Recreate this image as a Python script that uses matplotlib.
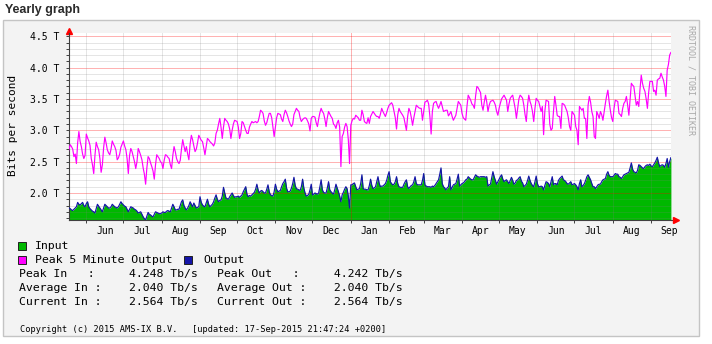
import numpy as np
import matplotlib
matplotlib.use("Agg")
import matplotlib.pyplot as plt
import matplotlib.dates as mdates
from matplotlib.patches import Rectangle
from matplotlib.ticker import FixedLocator, NullFormatter

plt.rcParams['font.family'] = ['DejaVu Sans Mono']

W, H = 712, 344

# daily values in Tb/s, one row per week, starting 2014-05-16
first_day = np.datetime64('2014-05-16')

peak_out_rows = [
    [2.66, 2.62, 2.70, 2.77, 2.74, 2.70, 2.58],
    [2.62, 2.47, 2.80, 2.98, 2.82, 2.74, 2.62],
    [2.55, 2.60, 2.94, 2.88, 2.83, 2.76, 2.55],
    [2.45, 2.31, 2.60, 2.81, 2.74, 2.69, 2.55],
    [2.33, 2.45, 2.72, 2.89, 2.80, 2.69, 2.64],
    [2.61, 2.70, 2.83, 2.78, 2.74, 2.68, 2.53],
    [2.56, 2.62, 2.73, 2.78, 2.83, 2.75, 2.69],
    [2.55, 2.31, 2.60, 2.71, 2.66, 2.58, 2.50],
    [2.39, 2.50, 2.71, 2.66, 2.60, 2.53, 2.40],
    [2.30, 2.14, 2.40, 2.58, 2.55, 2.48, 2.42],
    [2.35, 2.22, 2.45, 2.61, 2.58, 2.55, 2.50],
    [2.48, 2.39, 2.52, 2.61, 2.60, 2.57, 2.55],
    [2.45, 2.39, 2.60, 2.74, 2.66, 2.55, 2.50],
    [2.47, 2.52, 2.70, 2.85, 2.75, 2.66, 2.74],
    [2.62, 2.53, 2.78, 2.92, 2.85, 2.75, 2.66],
    [2.70, 2.80, 2.92, 2.88, 2.84, 2.82, 2.72],
    [2.61, 2.74, 2.87, 2.85, 2.82, 2.80, 2.78],
    [2.75, 2.80, 2.95, 3.00, 3.10, 3.19, 3.05],
    [2.87, 3.05, 3.19, 3.16, 3.14, 3.10, 3.02],
    [2.87, 3.00, 3.10, 3.16, 3.15, 3.14, 3.05],
    [2.87, 2.95, 3.14, 3.12, 3.06, 3.00, 2.95],
    [2.95, 3.05, 3.10, 3.14, 3.12, 3.13, 3.14],
    [3.12, 3.14, 3.22, 3.32, 3.30, 3.27, 3.15],
    [3.08, 3.12, 3.20, 3.27, 3.27, 3.20, 3.05],
    [2.90, 3.05, 3.20, 3.27, 3.26, 3.25, 3.18],
    [3.14, 3.25, 3.32, 3.28, 3.22, 3.15, 3.10],
    [3.06, 3.10, 3.25, 3.30, 3.35, 3.32, 3.30],
    [3.20, 3.14, 3.17, 3.19, 3.20, 3.19, 3.15],
    [3.10, 2.99, 3.19, 3.22, 3.22, 3.21, 3.12],
    [3.06, 3.18, 3.28, 3.35, 3.30, 3.27, 3.18],
    [3.06, 3.20, 3.30, 3.26, 3.22, 3.19, 3.10],
    [3.08, 3.03, 3.12, 3.16, 3.05, 2.42, 2.90],
    [2.95, 3.05, 3.11, 3.06, 2.85, 2.47, 3.08],
    [3.15, 3.19, 3.18, 3.24, 3.22, 3.20, 3.16],
    [3.16, 3.32, 3.25, 3.14, 3.12, 3.11, 3.20],
    [3.11, 3.22, 3.26, 3.30, 3.27, 3.24, 3.22],
    [3.22, 3.19, 3.26, 3.35, 3.30, 3.26, 3.22],
    [3.28, 3.35, 3.40, 3.42, 3.44, 3.40, 3.30],
    [3.20, 3.02, 3.25, 3.35, 3.30, 3.27, 3.24],
    [3.20, 3.10, 3.00, 3.22, 3.35, 3.30, 3.20],
    [3.08, 3.20, 3.30, 3.40, 3.38, 3.36, 3.35],
    [3.35, 3.16, 3.30, 3.45, 3.46, 3.48, 3.42],
    [3.22, 2.94, 3.30, 3.43, 3.45, 3.46, 3.40],
    [3.35, 3.40, 3.46, 3.38, 3.30, 3.31, 3.32],
    [3.32, 3.23, 3.26, 3.30, 3.22, 3.16, 3.20],
    [3.24, 3.35, 3.46, 3.43, 3.40, 3.27, 3.20],
    [3.18, 3.16, 3.38, 3.56, 3.52, 3.48, 3.42],
    [3.40, 3.35, 3.55, 3.70, 3.68, 3.64, 3.60],
    [3.40, 3.32, 3.45, 3.56, 3.45, 3.30, 3.40],
    [3.46, 3.47, 3.48, 3.45, 3.40, 3.30, 3.24],
    [3.35, 3.43, 3.50, 3.53, 3.56, 3.52, 3.48],
    [3.30, 3.42, 3.51, 3.54, 3.56, 3.45, 3.35],
    [3.19, 3.35, 3.50, 3.56, 3.54, 3.51, 3.40],
    [3.25, 3.14, 3.40, 3.56, 3.46, 3.40, 3.30],
    [3.14, 3.35, 3.51, 3.48, 3.46, 3.38, 3.30],
    [3.38, 2.93, 3.30, 3.48, 3.47, 3.46, 3.10],
    [3.00, 3.03, 3.30, 3.54, 3.40, 3.24, 3.22],
    [3.22, 3.03, 3.43, 3.42, 3.40, 3.35, 3.30],
    [3.20, 3.06, 3.00, 3.30, 3.27, 3.24, 3.06],
    [3.00, 2.77, 3.38, 3.35, 3.32, 3.35, 3.19],
    [3.19, 2.87, 3.40, 3.54, 3.45, 3.30, 3.22],
    [2.90, 2.87, 3.30, 3.25, 3.19, 3.30, 3.25],
    [3.16, 3.30, 3.43, 3.55, 3.64, 3.46, 3.32],
    [3.20, 3.14, 3.35, 3.48, 3.47, 3.46, 3.27],
    [3.25, 3.22, 3.35, 3.43, 3.46, 3.54, 3.40],
    [3.24, 3.50, 3.75, 3.72, 3.70, 3.55, 3.40],
    [3.46, 3.38, 3.65, 3.88, 3.75, 3.67, 3.62],
    [3.50, 3.35, 3.60, 3.78, 3.78, 3.78, 3.62],
    [3.64, 3.56, 3.80, 3.82, 3.83, 3.91, 3.85],
    [3.80, 3.70, 3.54, 3.96, 4.05, 4.20, 4.242],
]

input_rows = [
    [1.75, 1.74, 1.76, 1.75, 1.73, 1.72, 1.74],
    [1.76, 1.78, 1.85, 1.82, 1.81, 1.83, 1.85],
    [1.80, 1.78, 1.83, 1.86, 1.78, 1.75, 1.73],
    [1.71, 1.70, 1.68, 1.75, 1.82, 1.79, 1.76],
    [1.73, 1.70, 1.76, 1.82, 1.80, 1.78, 1.76],
    [1.76, 1.78, 1.82, 1.80, 1.78, 1.77, 1.76],
    [1.78, 1.82, 1.86, 1.83, 1.81, 1.79, 1.78],
    [1.74, 1.70, 1.74, 1.78, 1.77, 1.76, 1.74],
    [1.73, 1.71, 1.68, 1.69, 1.70, 1.66, 1.62],
    [1.59, 1.57, 1.63, 1.69, 1.66, 1.65, 1.63],
    [1.62, 1.66, 1.70, 1.69, 1.68, 1.67, 1.67],
    [1.68, 1.70, 1.69, 1.69, 1.71, 1.72, 1.71],
    [1.70, 1.76, 1.82, 1.78, 1.73, 1.73, 1.74],
    [1.74, 1.80, 1.86, 1.89, 1.80, 1.76, 1.73],
    [1.76, 1.80, 1.86, 1.82, 1.78, 1.84, 1.80],
    [1.76, 1.77, 1.78, 1.94, 1.85, 1.81, 1.79],
    [1.78, 1.84, 1.90, 1.82, 1.78, 1.80, 1.82],
    [1.86, 1.92, 1.97, 1.90, 1.86, 1.88, 1.89],
    [1.95, 2.09, 2.00, 1.92, 1.91, 1.90, 1.94],
    [1.97, 2.00, 1.96, 1.93, 1.94, 1.94, 1.95],
    [1.93, 1.95, 1.97, 2.02, 2.06, 2.10, 1.98],
    [1.94, 1.96, 1.95, 1.97, 1.99, 2.01, 2.06],
    [2.14, 2.05, 2.00, 2.03, 2.04, 2.02, 2.00],
    [2.00, 2.06, 2.13, 2.02, 1.97, 1.96, 1.95],
    [2.02, 2.14, 2.06, 2.02, 2.03, 2.04, 2.10],
    [2.15, 2.18, 2.22, 2.08, 2.02, 2.02, 2.03],
    [2.08, 2.15, 2.25, 2.12, 2.07, 2.06, 2.05],
    [2.04, 2.10, 2.22, 2.08, 2.00, 1.95, 1.96],
    [1.98, 2.05, 2.14, 1.97, 1.98, 2.00, 1.99],
    [1.98, 2.00, 2.10, 2.21, 2.05, 2.01, 2.00],
    [2.00, 2.08, 2.18, 2.05, 2.02, 2.00, 1.98],
    [2.05, 2.14, 2.08, 2.02, 1.95, 1.86, 1.97],
    [2.01, 2.06, 2.10, 2.07, 1.95, 1.76, 2.13],
    [2.13, 2.15, 2.16, 2.10, 2.05, 2.06, 2.07],
    [2.15, 2.29, 2.07, 2.06, 2.06, 2.05, 2.05],
    [2.12, 2.22, 2.12, 2.07, 2.08, 2.10, 2.18],
    [2.26, 2.15, 2.10, 2.11, 2.11, 2.13, 2.15],
    [2.20, 2.28, 2.34, 2.18, 2.15, 2.13, 2.14],
    [2.18, 2.26, 2.15, 2.10, 2.09, 2.09, 2.09],
    [2.14, 2.18, 2.21, 2.10, 2.07, 2.10, 2.12],
    [2.13, 2.18, 2.26, 2.15, 2.13, 2.13, 2.13],
    [2.13, 2.20, 2.31, 2.13, 2.11, 2.10, 2.10],
    [2.10, 2.09, 2.11, 2.10, 2.12, 2.15, 2.18],
    [2.21, 2.30, 2.40, 2.15, 2.10, 2.08, 2.05],
    [2.08, 2.10, 2.26, 2.05, 2.09, 2.13, 2.14],
    [2.15, 2.22, 2.30, 2.11, 2.13, 2.15, 2.16],
    [2.18, 2.21, 2.22, 2.26, 2.24, 2.22, 2.21],
    [2.21, 2.25, 2.29, 2.27, 2.26, 2.25, 2.26],
    [2.26, 2.26, 2.26, 2.25, 2.26, 2.11, 2.13],
    [2.14, 2.24, 2.34, 2.26, 2.20, 2.14, 2.18],
    [2.22, 2.26, 2.29, 2.22, 2.18, 2.20, 2.21],
    [2.18, 2.15, 2.20, 2.25, 2.20, 2.14, 2.16],
    [2.20, 2.21, 2.24, 2.26, 2.19, 2.16, 2.10],
    [2.12, 2.14, 2.20, 2.27, 2.20, 2.15, 2.12],
    [2.10, 2.18, 2.27, 2.15, 2.10, 2.10, 2.11],
    [2.10, 2.05, 2.12, 2.18, 2.17, 2.15, 2.10],
    [2.18, 2.26, 2.13, 2.15, 2.15, 2.13, 2.20],
    [2.23, 2.25, 2.27, 2.21, 2.20, 2.18, 2.15],
    [2.14, 2.16, 2.18, 2.13, 2.14, 2.15, 2.13],
    [2.10, 2.05, 2.15, 2.21, 2.10, 2.12, 2.15],
    [2.20, 2.26, 2.29, 2.25, 2.21, 2.15, 2.10],
    [2.10, 2.07, 2.10, 2.13, 2.14, 2.14, 2.18],
    [2.21, 2.22, 2.23, 2.30, 2.34, 2.28, 2.26],
    [2.26, 2.26, 2.28, 2.31, 2.30, 2.30, 2.26],
    [2.25, 2.23, 2.26, 2.29, 2.30, 2.31, 2.32],
    [2.33, 2.40, 2.48, 2.38, 2.34, 2.33, 2.32],
    [2.36, 2.45, 2.44, 2.42, 2.40, 2.39, 2.42],
    [2.44, 2.45, 2.44, 2.46, 2.43, 2.42, 2.45],
    [2.48, 2.52, 2.57, 2.48, 2.42, 2.44, 2.45],
    [2.44, 2.41, 2.47, 2.55, 2.41, 2.50, 2.564],
]

# output follows input exactly on this link
output_rows = input_rows

month_keys = ['2014-06', '2014-07', '2014-08', '2014-09', '2014-10', '2014-11',
              '2014-12', '2015-01', '2015-02', '2015-03', '2015-04', '2015-05',
              '2015-06', '2015-07', '2015-08', '2015-09']
month_labels = ['Jun', 'Jul', 'Aug', 'Sep', 'Oct', 'Nov', 'Dec', 'Jan',
                'Feb', 'Mar', 'Apr', 'May', 'Jun', 'Jul', 'Aug', 'Sep']

y_ticks = [2.0, 2.5, 3.0, 3.5, 4.0, 4.5]
y_tick_labels = ['2.0 T', '2.5 T', '3.0 T', '3.5 T', '4.0 T', '4.5 T']

peak_in, peak_out = 4.248, 4.242
avg_in, avg_out = 2.040, 2.040
cur_in, cur_out = 2.564, 2.564

peak_out_tb = np.ravel(peak_out_rows)
input_tb = np.ravel(input_rows)
output_tb = np.ravel(output_rows)
days = first_day + np.arange(len(input_tb))


def fx(x):
    return x / W


def fy(y):
    return 1 - y / H


fig = plt.figure(figsize=(W / 100, H / 100), dpi=100)
fig.patch.set_facecolor('white')

# grey canvas around graph and legend
fig.add_artist(Rectangle((fx(3), fy(336)), 696 / W, 316 / H, transform=fig.transFigure,
                         facecolor='#f3f3f3', edgecolor='#c4c4c4', lw=1, zorder=0))
fig.text(fx(5), fy(10), 'Yearly graph', family='Liberation Sans', fontsize=9,
         fontweight='bold', color='#2b2b2b', ha='left', va='center')

ax = fig.add_axes([fx(69), fy(220), 602 / W, 187 / H])
ax.set_facecolor('white')
ax.set_xlim(np.datetime64('2014-05-18T00:00'), np.datetime64('2015-09-17T02:00'))
ax.set_ylim(1.569, 4.552)

ax.fill_between(days, 0, input_tb, color='#00b800', lw=0, zorder=1)

# grid sits over the area, semi transparent
minor_col = (0.5, 0.5, 0.5, 0.2)
major_col = (1.0, 0.0, 0.0, 0.3)
for v in np.arange(16, 46) / 10:
    if round(v, 1) in y_ticks:
        ax.axhline(v, color=major_col, lw=0.72, zorder=2)
    else:
        ax.axhline(v, color=minor_col, lw=0.72, zorder=2)
month_starts = [np.datetime64(k + '-01') for k in month_keys]
for m in month_starts:
    col = major_col if str(m).endswith('01-01') else minor_col
    ax.axvline(m, color=col, lw=0.72, zorder=2)

ax.plot(days, output_tb, color='#1414a8', lw=0.85, zorder=4)
ax.plot(days, peak_out_tb, color='#ff00ff', lw=0.85, zorder=4)

# ticks: marks at month starts, labels mid month
ax.xaxis.set_major_locator(FixedLocator(mdates.date2num(month_starts)))
ax.xaxis.set_major_formatter(NullFormatter())
label_pos = [np.datetime64(k + '-16') for k in month_keys]
ax.set_xticks(mdates.date2num(label_pos), month_labels, minor=True)
ax.tick_params(axis='x', which='major', length=2.5, width=0.7, color='#404040')
ax.tick_params(axis='x', which='minor', length=0, pad=4.5, labelsize=7)

ax.set_yticks(y_ticks, y_tick_labels)
ax.set_yticks(np.arange(16, 46) / 10, minor=True)
ax.tick_params(axis='y', which='both', length=2, width=0.7, color='#404040',
               labelsize=7, pad=5)

for s in ('top', 'right'):
    ax.spines[s].set_visible(False)
for s in ('left', 'bottom'):
    ax.spines[s].set_color('#404040')
    ax.spines[s].set_linewidth(0.8)

# axis arrows
ax.plot([1, 1 + 4 / 602], [0, 0], transform=ax.transAxes, clip_on=False,
        color='#404040', lw=0.8)
ax.plot([1 + 5 / 602], [0], marker='>', ms=4, color='red', mec='red',
        transform=ax.transAxes, clip_on=False)
ax.plot([0], [1 + 2 / 187], marker='^', ms=4, color='red', mec='red',
        transform=ax.transAxes, clip_on=False)

fig.text(fx(13), fy(125.5), 'Bits per second', rotation=90, fontsize=8,
         ha='center', va='center')
fig.text(fx(691), fy(25), 'RRDTOOL / TOBI OETIKER', rotation=270, fontsize=6,
         color='#a8a8a8', ha='center', va='top')


def legend_box(x, y, color):
    fig.add_artist(Rectangle((fx(x), fy(y + 8)), 8 / W, 8 / H, transform=fig.transFigure,
                             facecolor=color, edgecolor='#202020', lw=0.7))


lfs = 8.25
legend_box(18, 242, '#00b800')
fig.text(fx(35), fy(246), 'Input', fontsize=lfs, va='center')
legend_box(18, 256, '#ff00ff')
fig.text(fx(35), fy(260), 'Peak 5 Minute Output', fontsize=lfs, va='center')
legend_box(184, 256, '#1414a8')
fig.text(fx(203), fy(260), 'Output', fontsize=lfs, va='center')

rows = [
    ('Peak In   :     %.3f Tb/s' % peak_in, 'Peak Out   :     %.3f Tb/s' % peak_out),
    ('Average In :    %.3f Tb/s' % avg_in, 'Average Out :    %.3f Tb/s' % avg_out),
    ('Current In :    %.3f Tb/s' % cur_in, 'Current Out :    %.3f Tb/s' % cur_out),
]
for i, (left, right) in enumerate(rows):
    y = 273.5 + i * 14.1
    fig.text(fx(19), fy(y), left, fontsize=lfs, va='center')
    fig.text(fx(217), fy(y), right, fontsize=lfs, va='center')

fig.text(fx(20), fy(329), 'Copyright (c) 2015 AMS-IX B.V.', fontsize=6.2, va='center')
fig.text(fx(192), fy(329), '[updated: 17-Sep-2015 21:47:24 +0200]', fontsize=6.2,
         va='center')

fig.savefig('out.png', dpi=100)
